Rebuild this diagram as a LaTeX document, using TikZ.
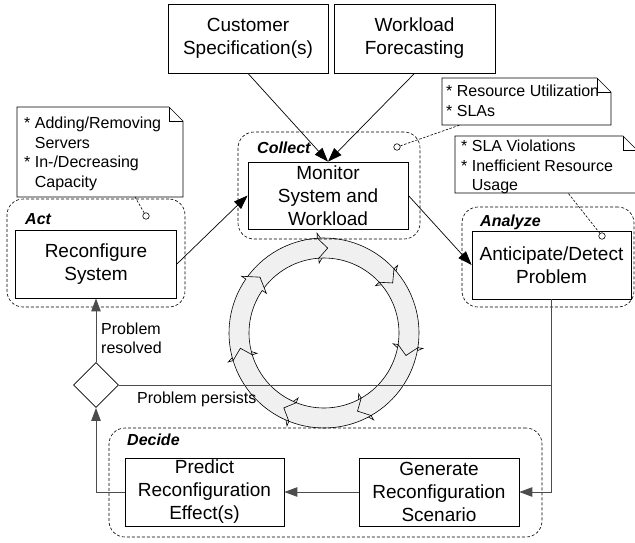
\documentclass[tikz,border=0pt]{standalone}
\usepackage{fontspec}
\setmainfont{Liberation Sans}
\usetikzlibrary{arrows.meta,shapes.geometric,calc}
\newcommand\drawnote[4]{%
  \draw[notebody] (#1,#2) -- ({#3-14},#2) -- (#3,{#2+14}) -- (#3,#4) -- (#1,#4) -- cycle;
  \draw[notebody, fill=none] ({#3-14},#2) -- ({#3-14},{#2+14}) -- (#3,{#2+14});
}
\begin{document}
\begin{tikzpicture}[x=1pt,y=-1pt,
  box/.style={draw, line width=0.8pt, inner sep=0pt, align=center, font=\fontsize{19}{23}\selectfont},
  grp/.style={draw, dash pattern=on 3pt off 2pt, rounded corners=16pt, line width=0.6pt, inner sep=0pt},
  grplabel/.style={font=\fontsize{16}{19}\selectfont\bfseries\itshape, inner sep=0pt, anchor=base west},
  notetext/.style={font=\fontsize{16}{19.5}\selectfont, inner sep=0pt, align=left, anchor=north west},
  notebody/.style={draw, line width=0.7pt, fill=white},
  dotc/.style={circle, draw, fill=white, minimum size=6.5pt, inner sep=0pt, line width=0.6pt},
  notelink/.style={draw, dash pattern=on 2.5pt off 1.5pt, line width=0.6pt},
  arr/.style={draw, line width=0.7pt, -{Triangle[length=14pt,width=10pt]}},
  flow/.style={draw, line width=0.9pt, color=black!70},
  flowarr/.style={flow, -{Triangle[length=13pt,width=9.5pt]}},
  ringseg/.style={draw, fill=black!6, line width=0.6pt},
  lbl/.style={font=\fontsize{16}{18.5}\selectfont, inner sep=0pt, align=left},
]
\useasboundingbox (0,0) rectangle (635,542);

% ring of arrows
\begin{scope}[shift={(324,333)}]
  \foreach \k in {0,...,6}{
    \pgfmathsetmacro\b{94-\k*360/7}
    \pgfmathsetmacro\a{\b+360/7}
    \filldraw[ringseg] (\a:95pt) arc[start angle=\a, end angle=\b, radius=95pt]
      -- (\b:100pt) -- ({\b-6.5}:85pt) -- (\b:70pt) -- (\b:75pt)
      arc[start angle=\b, end angle=\a, radius=75pt]
      -- ({\a-6.5}:85pt) -- cycle;
  }
\end{scope}

% groups
\node[grp, minimum width=182pt, minimum height=107pt] (collectgrp) at (329,185.5) {};
\node[grp, minimum width=178pt, minimum height=108pt] (actgrp) at (96,253) {};
\node[grp, minimum width=172pt, minimum height=100pt] (analyzegrp) at (548,257) {};
\node[grp, minimum width=433pt, minimum height=109pt] (decidegrp) at (325.5,482.5) {};

\node[grplabel] (collectlbl) at (257,153) {Collect};
\node[grplabel] (actlbl) at (25,224) {Act};
\node[grplabel] (analyzelbl) at (480,226) {Analyze};
\node[grplabel] (decidelbl) at (127,445) {Decide};

% boxes
\node[box, minimum width=160pt, minimum height=69pt] (cust) at (248,38.5) {Customer\\Specification(s)};
\node[box, minimum width=161pt, minimum height=69pt] (work) at (414.5,38.5) {Workload\\Forecasting};
\node[box, minimum width=160pt, minimum height=67pt] (mon) at (328,195.5) {Monitor\\System and\\Workload};
\node[box, minimum width=159pt, minimum height=68pt] (ant) at (551.5,265) {Anticipate/Detect\\Problem};
\node[box, minimum width=161pt, minimum height=68pt] (rec) at (96,264) {Reconfigure\\System};
\node[box, minimum width=159pt, minimum height=68pt] (pred) at (204.5,492) {Predict\\Reconfiguration\\Effect(s)};
\node[box, minimum width=160pt, minimum height=68pt] (gen) at (439,492) {Generate\\Reconfiguration\\Scenario};
\node[draw, diamond, aspect=1, minimum width=45pt, minimum height=45pt, inner sep=0pt, line width=0.8pt] (dia) at (96,385) {};

% notes
\drawnote{17}{107}{183}{197}
\node[notetext] (actnote) at (24,117) {*~Adding/Removing\\\hphantom{*~}Servers\\*~In-/Decreasing\\\hphantom{*~}Capacity};
\drawnote{442}{78}{611}{125}
\node[notetext] (resnote) at (446,85) {*~Resource Utilization\\*~SLAs};
\drawnote{455}{136}{637}{193}
\node[notetext] (slanote) at (461,140) {*~SLA Violations\\*~Inefficient Resource\\\hphantom{*~}Usage};

\coordinate (actnotelink) at (135,197);
\coordinate (resnotelink) at (460,125);
\coordinate (slanotelink) at (568,193);
\node[dotc] (actdot) at (146,216) {};
\node[dotc] (collectdot) at (397,147) {};
\node[dotc] (analyzedot) at (602,236) {};
\draw[notelink] (actdot) -- (actnotelink);
\draw[notelink] (collectdot) -- (resnotelink);
\draw[notelink] (analyzedot) -- (slanotelink);

% connectors
\draw[arr] (cust.south) -- (mon.north);
\draw[arr] (work.south) -- (mon.north);
\draw[arr] (rec.east) -- (mon.west);
\draw[arr] (mon.east) -- (ant.west);
\draw[flowarr] (ant.south) |- (gen.east);
\draw[flowarr] (gen.west) -- (pred.east);
\draw[flowarr] (pred.west) -| (dia.south);
\draw[flowarr] (dia.north) -- (rec.south);
\draw[flow] (dia.east) -- (dia.east -| ant.south);

\node[lbl, anchor=north west] (resolved) at (101,323) {Problem\\resolved};
\node[lbl, anchor=base west] (persists) at (137,403) {Problem persists};
\end{tikzpicture}
\end{document}
